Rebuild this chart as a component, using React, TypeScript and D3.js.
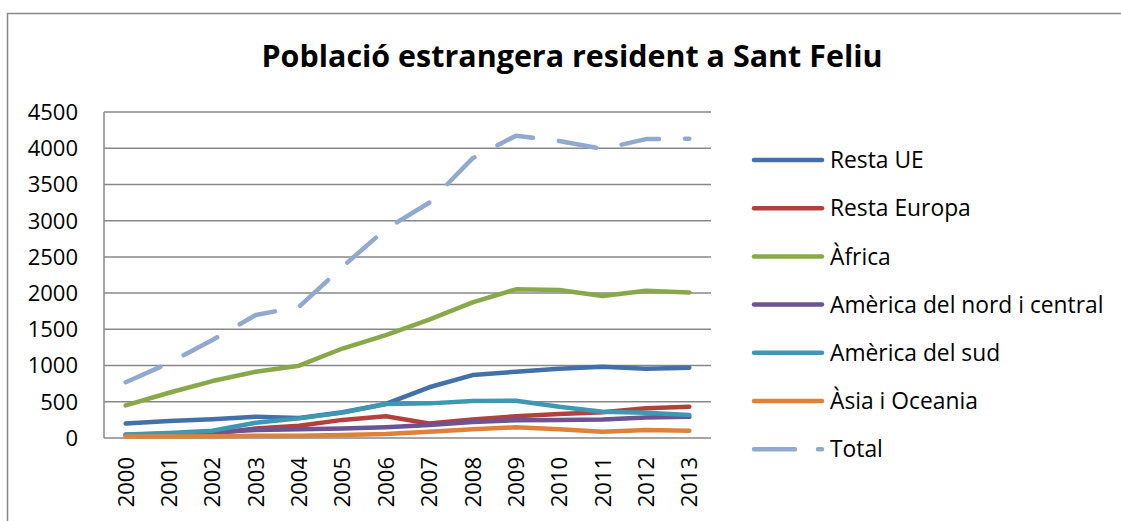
import React from "react";
import * as d3 from "d3";

const years = ["2000", "2001", "2002", "2003", "2004", "2005", "2006", "2007", "2008", "2009", "2010", "2011", "2012", "2013"];
const restaUE = [200, 235, 258, 294, 275, 355, 470, 700, 869, 915, 955, 984, 957, 971];
const restaEuropa = [30, 40, 60, 130, 170, 250, 300, 200, 255, 300, 330, 355, 410, 432];
const africa = [450, 625, 786, 915, 998, 1235, 1421, 1635, 1872, 2052, 2042, 1960, 2033, 2010];
const americaNord = [45, 60, 80, 110, 120, 130, 150, 180, 222, 245, 250, 255, 282, 292];
const americaSud = [50, 70, 100, 212, 271, 350, 469, 478, 511, 515, 432, 363, 350, 317];
const asia = [20, 20, 25, 30, 30, 40, 55, 87, 120, 147, 120, 87, 110, 101];
const total = [770, 1035, 1352, 1697, 1812, 2364, 2884, 3247, 3860, 4172, 4100, 3990, 4126, 4130];
const yTicks = [0, 500, 1000, 1500, 2000, 2500, 3000, 3500, 4000, 4500];

const series = [
  { name: "Resta UE", values: restaUE, color: "#4370A9", dash: null },
  { name: "Resta Europa", values: restaEuropa, color: "#B2413E", dash: null },
  { name: "Àfrica", values: africa, color: "#89A84A", dash: null },
  { name: "Amèrica del nord i central", values: americaNord, color: "#6C5391", dash: null },
  { name: "Amèrica del sud", values: americaSud, color: "#3E98B1", dash: null },
  { name: "Àsia i Oceania", values: asia, color: "#DE813A", dash: null },
  { name: "Total", values: total, color: "#91A9D0", dash: "38 26" },
];

const font = "'Open Sans', 'Liberation Sans', sans-serif";

export default function App() {
  const x = d3.scalePoint<string>().domain(years).range([104, 711]).padding(0.5);
  const y = d3.scaleLinear().domain([0, 4500]).range([438, 112]);
  const line = d3
    .line<number>()
    .x((d, i) => x(years[i]) as number)
    .y((d) => y(d));

  return (
    <svg
      width={1121}
      height={521}
      style={{ position: "absolute", left: 0, top: 0, background: "#fff" }}
    >
      <rect x={7.5} y={13.5} width={1200} height={600} fill="#fff" stroke="#888" strokeWidth={1.5} />
      <text
        x={572}
        y={67}
        textAnchor="middle"
        fontFamily={font}
        fontWeight="bold"
        fontSize={30}
        textLength={621}
        lengthAdjust="spacingAndGlyphs"
      >
        Població estrangera resident a Sant Feliu
      </text>

      {yTicks.map((t) => (
        <g key={t}>
          {t > 0 && (
            <line x1={104} x2={711} y1={y(t)} y2={y(t)} stroke="#878787" strokeWidth={1.5} />
          )}
          <text
            x={78}
            y={y(t)}
            dy="0.36em"
            textAnchor="end"
            fontFamily={font}
            fontSize={22}
            fill="#000"
          >
            {t}
          </text>
        </g>
      ))}
      <line x1={104} x2={104} y1={112} y2={438} stroke="#878787" strokeWidth={1.5} />
      <line x1={104} x2={711} y1={438} y2={438} stroke="#878787" strokeWidth={1.5} />

      {years.map((yr) => (
        <text
          key={yr}
          transform={`translate(${(x(yr) as number) + 8},${457}) rotate(-90)`}
          textAnchor="end"
          fontFamily={font}
          fontSize={22}
          fill="#000"
        >
          {yr}
        </text>
      ))}

      {series.map((s) => (
        <path
          key={s.name}
          d={line(s.values) as string}
          fill="none"
          stroke={s.color}
          strokeWidth={4.5}
          strokeLinecap="round"
          strokeLinejoin="round"
          strokeDasharray={s.dash || undefined}
        />
      ))}

      {series.map((s, i) => {
        const ly = 160 + i * 48.2;
        return (
          <g key={s.name}>
            <line
              x1={754}
              x2={822}
              y1={ly}
              y2={ly}
              stroke={s.color}
              strokeWidth={4.5}
              strokeLinecap="round"
              strokeDasharray={s.dash ? "41 23" : undefined}
            />
            <text x={830} y={ly} dy="0.36em" fontFamily={font} fontSize={22.8} fill="#000">
              {s.name}
            </text>
          </g>
        );
      })}
    </svg>
  );
}
